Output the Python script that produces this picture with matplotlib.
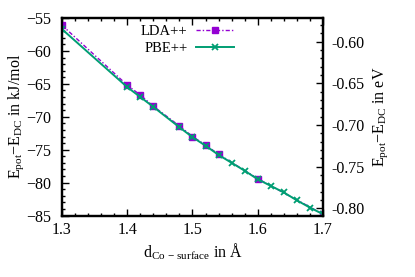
import matplotlib
matplotlib.use('Agg')
import matplotlib.pyplot as plt
from matplotlib.ticker import MultipleLocator, FormatStrFormatter

# DATA
lda_x = [1.30, 1.40, 1.42, 1.44, 1.48, 1.50, 1.52, 1.54, 1.60, 1.70]
lda_y = [-56.1, -65.2, -66.7, -68.4, -71.4, -73.0, -74.3, -75.7, -79.4, -84.8]
pbe_x = [1.30, 1.40, 1.42, 1.44, 1.48, 1.50, 1.52, 1.54, 1.56, 1.58,
         1.60, 1.62, 1.64, 1.66, 1.68, 1.70]
pbe_y = [-56.7, -65.5, -67.0, -68.5, -71.6, -73.1, -74.4, -75.8, -77.0, -78.2,
         -79.5, -80.5, -81.5, -82.7, -83.8, -84.8]
x_ticks = [1.3, 1.4, 1.5, 1.6, 1.7]
y_ticks = [-85, -80, -75, -70, -65, -60, -55]
y2_ticks = [-0.80, -0.75, -0.70, -0.65, -0.60]

# STYLE
plt.rcParams['font.family'] = ['Liberation Serif', 'DejaVu Serif']
plt.rcParams['mathtext.fontset'] = 'custom'
plt.rcParams['mathtext.rm'] = 'Liberation Serif'
plt.rcParams['mathtext.it'] = 'Liberation Serif:italic'
plt.rcParams['font.size'] = 11.5
plt.rcParams['axes.unicode_minus'] = True

fig = plt.figure(figsize=(4.15, 2.77), dpi=100)
ax = fig.add_axes([0.1494, 0.222, 0.6289, 0.713])

ax.plot(lda_x, lda_y, color='#9400D3', ls=(0, (3, 1.5, 1, 1.5)), lw=1.0,
        marker='s', ms=4.5, label='LDA++', zorder=3)
ax.plot(pbe_x, pbe_y, color='#009E73', ls='-', lw=1.4, marker='x', ms=5,
        mew=1.3, label='PBE++', zorder=4)

ax.set_xlim(1.3, 1.7)
ax.set_ylim(-85, -55)
ax.set_xticks(x_ticks)
ax.set_yticks(y_ticks)
ax.xaxis.set_minor_locator(MultipleLocator(0.02))
ax.yaxis.set_minor_locator(MultipleLocator(1))
ax.xaxis.set_major_formatter(FormatStrFormatter('%.1f'))
ax.tick_params(which='both', direction='in', top=True, right=False)
ax.tick_params(which='major', length=5, width=1)
ax.tick_params(which='minor', length=2.5, width=1)
ax.tick_params(axis='x', which='major', pad=5)
ax.tick_params(axis='y', which='major', pad=8)
for s in ax.spines.values():
    s.set_linewidth(1.6)

ax.set_xlabel(r'd$_{\rm Co\,-\,surface}$ in Å', labelpad=2)
ax.set_ylabel(r'E$_{\rm pot}$$-$E$_{\rm DC}$ in kJ/mol', labelpad=0)

ax2 = ax.twinx()
ax2.set_ylim(-0.8087, -0.5716)
ax2.set_yticks(y2_ticks)
ax2.yaxis.set_minor_locator(MultipleLocator(0.01))
ax2.yaxis.set_major_formatter(FormatStrFormatter('%.2f'))
ax2.tick_params(which='both', direction='in')
ax2.tick_params(which='major', length=5, width=1, pad=6)
ax2.tick_params(which='minor', length=2.5, width=1)
for s in ax2.spines.values():
    s.set_linewidth(1.6)
ax2.set_ylabel(r'E$_{\rm pot}$$-$E$_{\rm DC}$ in eV', labelpad=5)

ax.legend(loc='upper right', bbox_to_anchor=(0.685, 1.0), frameon=False,
          markerfirst=False, handlelength=2.6, handletextpad=0.6,
          labelspacing=0.25, borderaxespad=0.05, fontsize=10.5)

plt.savefig('out.png', dpi=100)
